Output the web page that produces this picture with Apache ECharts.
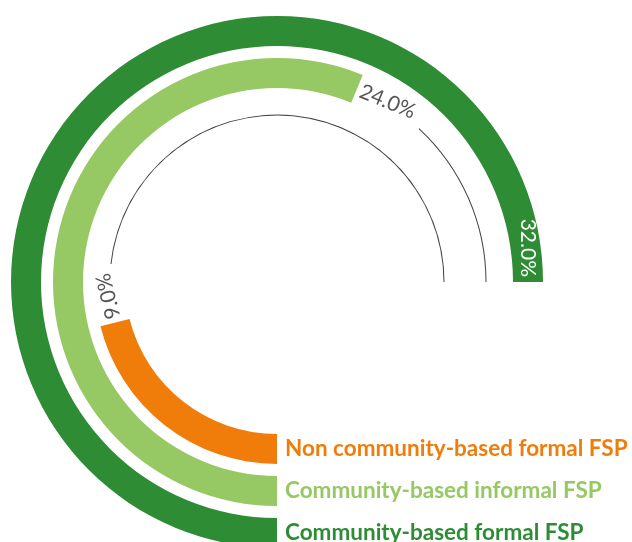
<!DOCTYPE html>
<html>
<head>
<meta charset="utf-8">
<script src="https://cdn.jsdelivr.net/npm/echarts@6/dist/echarts.min.js"></script>
<style>
html,body{margin:0;padding:0;background:#fff;}
#chart{width:632px;height:542px;}
</style>
</head>
<body>
<div id="chart"></div>
<script>
// ---- data ----
const categories = ['Non community-based formal FSP', 'Community-based informal FSP', 'Community-based formal FSP'];
const values = [9.0, 24.0, 32.0];
// ---- styles ----
const barColors = ['#F07D0A', '#96C864', '#2E8C35'];
const labelColors = ['#F07D0A', '#96C864', '#2E8C35'];

const MAXV = Math.max.apply(null, values);
const ANGLE_MAX = MAXV * 360 / 270;   // max value sweeps 270 degrees
const LABEL_GAP = 2.4;                // gap (in value units) left for the value label

const center = [277, 282];
const radius = [146, 272];

const chart = echarts.init(document.getElementById('chart'), null, {renderer: 'canvas'});

const mainData = values.map(function (v, i) {
  const isMax = v >= MAXV;
  return {
    value: v,
    itemStyle: {color: barColors[i]},
    label: isMax ? {
      show: true, position: 'insideEnd', align: 'right', verticalAlign: 'middle',
      color: '#ffffff', distance: 5
    } : {
      show: true, position: 'end', align: 'left', verticalAlign: 'middle',
      color: '#555555', distance: 4
    }
  };
});
const spacerData = values.map(function (v) { return v >= MAXV ? '-' : v + LABEL_GAP; });
const lineData = values.map(function (v) { return v >= MAXV ? '-' : MAXV - v - LABEL_GAP; });

const option = {
  animation: false,
  backgroundColor: '#ffffff',
  polar: [
    {center: center, radius: radius},
    {center: center, radius: radius}
  ],
  angleAxis: [
    {polarIndex: 0, type: 'value', min: 0, max: ANGLE_MAX, startAngle: 270, clockwise: true, show: false},
    {polarIndex: 1, type: 'value', min: 0, max: ANGLE_MAX, startAngle: 270, clockwise: true, show: false}
  ],
  radiusAxis: [
    {
      polarIndex: 0, type: 'category', data: categories, z: 10,
      axisLine: {show: false}, axisTick: {show: false}, splitLine: {show: false},
      axisLabel: {
        interval: 0, margin: 8, fontFamily: 'Lato', fontWeight: 'bold', fontSize: 22.5,
        color: function (val, idx) { return labelColors[idx]; }
      }
    },
    {
      polarIndex: 1, type: 'category', data: categories, show: false
    }
  ],
  series: [
    {
      type: 'bar', coordinateSystem: 'polar', polarIndex: 0, barWidth: 30,
      data: mainData, silent: true, z: 3,
      label: {fontFamily: 'Lato', fontSize: 21, formatter: function (p) { return p.value.toFixed(1) + '%'; }}
    },
    {
      type: 'bar', coordinateSystem: 'polar', polarIndex: 1, stack: 'track', barWidth: 1,
      data: spacerData, silent: true, itemStyle: {color: 'rgba(0,0,0,0)'}, z: 1
    },
    {
      type: 'bar', coordinateSystem: 'polar', polarIndex: 1, stack: 'track', barWidth: 1,
      data: lineData, silent: true, itemStyle: {color: '#444444'}, z: 1
    }
  ]
};
chart.setOption(option);
</script>
</body>
</html>
